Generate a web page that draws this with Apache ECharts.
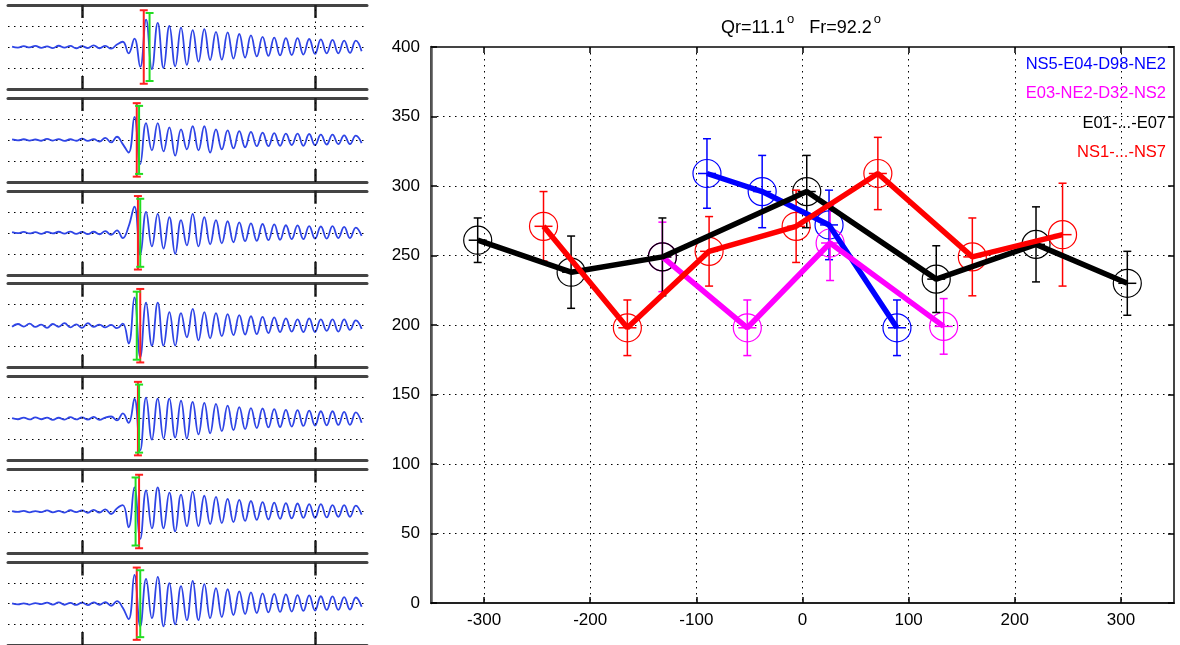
<!DOCTYPE html>
<html><head><meta charset="utf-8">
<script src="https://cdn.jsdelivr.net/npm/echarts@6/dist/echarts.min.js"></script>
<style>html,body{margin:0;padding:0;background:#fff}#c{width:1180px;height:645px}</style>
</head><body><div id="c"></div>
<script>
// ---------- left: seismogram traces (amplitude, sampled every traceDt s) ----------
const traceDt = 0.05;
const traceTicks = [0.6, 2.6];
const trace1 = [0.02,-0.03,0.04,-0.02,0.05,-0.04,0.03,-0.05,0.06,-0.03,0.05,-0.06,0.04,-0.05,0.08,-0.06,0.05,-0.08,0.12,0.25,-0.3,0.4,-0.95,1.3,-1.05,1.15,-1.0,1.0,-0.92,0.92,-0.85,0.8,-0.7,0.85,-0.62,0.72,-0.6,0.7,-0.55,0.62,-0.5,0.55,-0.45,0.48,-0.42,0.45,-0.4,0.42,-0.38,0.42,-0.36,0.38,-0.33,0.36,-0.3,0.34,-0.3,0.3,-0.28,0.3,-0.2];
const trace2 = [0.02,-0.02,0.03,-0.03,0.02,-0.04,0.05,-0.03,0.04,-0.05,0.03,-0.04,0.06,-0.05,0.04,-0.08,0.1,-0.12,0.15,-0.2,-0.6,1.1,-1.15,0.8,-0.5,0.8,-0.55,0.6,-0.75,0.5,-0.45,0.65,-0.5,0.65,-0.6,0.5,-0.45,0.45,-0.4,0.42,-0.35,0.38,-0.3,0.35,-0.3,0.32,-0.28,0.3,-0.25,0.3,-0.28,0.28,-0.25,0.25,-0.22,0.25,-0.2,0.22,-0.2,0.2,-0.15];
const trace3 = [0.03,-0.02,0.04,-0.03,0.03,-0.05,0.04,-0.03,0.05,-0.04,0.06,-0.05,0.04,-0.06,0.05,-0.07,0.08,-0.1,0.12,-0.25,0.3,1.25,-1.05,1.0,-0.65,0.9,-0.75,0.75,-1.0,0.6,-0.6,0.9,-0.65,0.75,-0.55,0.6,-0.5,0.55,-0.45,0.5,-0.4,0.45,-0.38,0.42,-0.35,0.4,-0.33,0.36,-0.3,0.35,-0.3,0.32,-0.28,0.3,-0.28,0.32,-0.25,0.28,-0.25,0.25,-0.15];
const trace4 = [-0.05,0.08,-0.04,0.1,-0.06,0.05,-0.1,0.08,-0.05,0.12,-0.08,0.06,-0.1,0.12,-0.06,0.05,-0.08,0.04,-0.12,0.1,-0.85,1.35,-1.5,1.1,-0.95,1.1,-0.95,0.65,-0.95,0.6,-0.55,0.8,-0.7,0.65,-0.6,0.6,-0.5,0.55,-0.45,0.5,-0.42,0.45,-0.4,0.42,-0.35,0.4,-0.3,0.35,-0.28,0.3,-0.3,0.35,-0.3,0.3,-0.25,0.3,-0.28,0.3,-0.2,0.25,-0.15];
const trace5 = [0.02,-0.03,0.05,-0.04,0.06,-0.03,0.05,-0.06,0.04,-0.05,0.07,-0.04,0.06,-0.05,0.08,-0.06,0.05,0.1,-0.08,0.25,-0.2,0.95,-1.5,1.0,-1.0,0.95,-0.95,0.95,-0.9,0.85,-0.95,0.8,-0.75,0.75,-0.7,0.7,-0.6,0.62,-0.55,0.55,-0.5,0.5,-0.45,0.48,-0.42,0.45,-0.4,0.42,-0.38,0.4,-0.35,0.38,-0.33,0.35,-0.32,0.35,-0.3,0.32,-0.3,0.3,-0.2];
const trace6 = [0.02,-0.02,0.03,-0.04,0.02,-0.03,0.05,-0.04,0.03,-0.05,0.06,-0.03,0.05,-0.06,0.08,-0.05,0.1,-0.12,0.15,0.3,-0.75,1.15,-1.3,1.0,-0.8,1.15,-0.8,0.9,-0.95,0.8,-0.7,0.95,-0.7,0.75,-0.6,0.7,-0.55,0.6,-0.5,0.55,-0.45,0.5,-0.4,0.45,-0.38,0.42,-0.35,0.4,-0.33,0.38,-0.3,0.35,-0.3,0.35,-0.28,0.3,-0.25,0.3,-0.25,0.28,-0.15];
const trace7 = [0.02,-0.03,0.02,-0.04,0.03,-0.02,0.05,-0.04,0.06,-0.05,0.04,-0.06,0.05,-0.07,0.06,-0.05,0.08,-0.1,0.12,-0.2,-0.75,1.4,-1.1,1.2,-0.7,1.3,-1.1,1.0,-1.0,0.85,-0.8,1.1,-0.8,0.95,-0.7,0.75,-0.65,0.7,-0.55,0.6,-0.5,0.55,-0.45,0.5,-0.42,0.48,-0.4,0.45,-0.38,0.42,-0.35,0.4,-0.33,0.36,-0.3,0.35,-0.3,0.32,-0.28,0.3,-0.15];
const traces = [trace1, trace2, trace3, trace4, trace5, trace6, trace7];
// pick markers (time) and half-heights (amplitude units)
const pickRed   = [1.13, 1.07, 1.08, 1.10, 1.08, 1.09, 1.07];
const pickGreen = [1.18, 1.09, 1.10, 1.07, 1.09, 1.06, 1.10];
const pickRedHalf = 1.75;
const pickGreenHalf = 1.62;

// ---------- right: measurements ----------
const xTicks = [-300, -200, -100, 0, 100, 200, 300];
const blueX = [-90, -38, 25, 89];
const blueY = [309, 296, 272, 198];
const blueErr = [25, 26, 25, 20];
const magentaX = [-132, -52, 26, 133];
const magentaY = [249, 198, 259, 199];
const magentaErr = [25, 20, 27, 20];
const blackX = [-306, -218, -132, 4, 126, 220, 306];
const blackY = [261, 238, 249, 296, 233, 258, 230];
const blackErr = [16, 26, 28, 26, 24, 27, 23];
const redX = [-244, -165, -88, -6, 71, 160, 245];
const redY = [271, 198, 253, 271, 309, 249, 265];
const redErr = [25, 20, 25, 26, 26, 28, 37];
const seriesNames = ['NS5-E04-D98-NE2', 'E03-NE2-D32-NS2', 'E01-...-E07', 'NS1-...-NS7'];
const seriesColors = ['#0000ff', '#ff00ff', '#000000', '#ff0000'];
const titleParts = ['Qr=11.1', 'Fr=92.2'];

const FONT = "'Liberation Sans',sans-serif";
const chart = echarts.init(document.getElementById('c'), null, {renderer: 'canvas'});

const grids = [], xAxes = [], yAxes = [], series = [];
const dotted = [1.5, 4.5];

// left panels
traces.forEach((tr, i) => {
  grids.push({left: 8, width: 359, top: 5 + i * 92.9, height: 84});
  const common = {
    type: 'value', gridIndex: i, min: -0.035, max: 3.046,
    axisLabel: {show: false}, splitLine: {show: false},
    axisLine: {show: true, onZero: false, lineStyle: {color: '#444', width: 3}},
    axisTick: {show: true, inside: true, length: 13, customValues: traceTicks, lineStyle: {color: '#222', width: 2.5}}
  };
  xAxes.push(Object.assign({position: 'bottom'}, common));
  xAxes.push(Object.assign({position: 'top'}, common));
  yAxes.push({
    type: 'value', gridIndex: i, min: -2, max: 2, interval: 1,
    axisLine: {show: false, onZero: false}, axisTick: {show: false}, axisLabel: {show: false},
    splitLine: {show: true, lineStyle: {color: '#000', width: 1, type: dotted}}
  });
  series.push({
    type: 'line', xAxisIndex: 2 * i, yAxisIndex: i, symbol: 'none', smooth: 0.45,
    lineStyle: {color: '#2f45e6', width: 1.8}, z: 3,
    data: tr.map((v, k) => [k * traceDt, v]),
    markLine: {silent: true, symbol: 'none', label: {show: false},
      lineStyle: {color: '#000', width: 1, type: dotted},
      data: traceTicks.map(t => ({xAxis: t}))}
  });
  const pickSeries = (t, half, color, z) => ({
    type: 'custom', xAxisIndex: 2 * i, yAxisIndex: i, z: z, clip: false,
    data: [[t, half]],
    renderItem: (params, api) => {
      const x = api.value(0), h = api.value(1);
      const a = api.coord([x, h]), b = api.coord([x, -h]);
      const st = {stroke: color, lineWidth: 2};
      return {type: 'group', children: [
        {type: 'line', shape: {x1: a[0], y1: a[1], x2: b[0], y2: b[1]}, style: st},
        {type: 'line', shape: {x1: a[0] - 4, y1: a[1], x2: a[0] + 4, y2: a[1]}, style: st},
        {type: 'line', shape: {x1: b[0] - 4, y1: b[1], x2: b[0] + 4, y2: b[1]}, style: st}
      ]};
    }
  });
  series.push(pickSeries(pickRed[i], pickRedHalf, '#ff2020', 4));
  series.push(pickSeries(pickGreen[i], pickGreenHalf, '#22dd22', 5));
});

// right chart
const G = 7;
grids.push({left: 431, right: 6, top: 47, bottom: 42, show: true, borderColor: '#333', borderWidth: 2});
const tickStyle = {show: true, inside: true, length: 6, lineStyle: {color: '#000', width: 1.5}};
xAxes.push({type: 'value', gridIndex: G, position: 'bottom', min: -350, max: 350,
  axisLine: {show: true, onZero: false, lineStyle: {color: '#222', width: 2}},
  axisTick: Object.assign({customValues: xTicks}, tickStyle),
  axisLabel: {customValues: xTicks, color: '#000', fontFamily: FONT, fontSize: 17, margin: 9},
  splitLine: {show: true, lineStyle: {color: '#000', width: 1, type: dotted}}});
xAxes.push({type: 'value', gridIndex: G, position: 'top', min: -350, max: 350,
  axisLine: {show: true, onZero: false, lineStyle: {color: '#444', width: 2}},
  axisTick: Object.assign({customValues: xTicks}, tickStyle),
  axisLabel: {show: false}, splitLine: {show: false}});
yAxes.push({type: 'value', gridIndex: G, position: 'left', min: 0, max: 400, interval: 50,
  axisLine: {show: true, onZero: false, lineStyle: {color: '#555', width: 2.5}},
  axisTick: tickStyle,
  axisLabel: {color: '#000', fontFamily: FONT, fontSize: 17, margin: 11},
  splitLine: {show: true, lineStyle: {color: '#000', width: 1, type: dotted}}});
yAxes.push({type: 'value', gridIndex: G, position: 'right', min: 0, max: 400, interval: 50,
  axisLine: {show: true, onZero: false, lineStyle: {color: '#444', width: 2}},
  axisTick: tickStyle, axisLabel: {show: false}, splitLine: {show: false}});

const groups = [
  [blueX, blueY, blueErr], [magentaX, magentaY, magentaErr],
  [blackX, blackY, blackErr], [redX, redY, redErr]
];
groups.forEach((g, si) => {
  const color = seriesColors[si];
  const data = g[0].map((x, k) => [x, g[1][k], g[2][k]]);
  series.push({
    name: seriesNames[si] + ' err', type: 'custom', xAxisIndex: 14, yAxisIndex: 7, z: 5 + si,
    data: data,
    renderItem: (params, api) => {
      const x = api.value(0), y = api.value(1), e = api.value(2);
      const c = api.coord([x, y]), a = api.coord([x, y + e]), b = api.coord([x, y - e]);
      const st = {stroke: color, lineWidth: 1.5, fill: null};
      return {type: 'group', children: [
        {type: 'circle', shape: {cx: c[0], cy: c[1], r: 14}, style: {stroke: color, lineWidth: 1.2, fill: null}},
        {type: 'line', shape: {x1: a[0], y1: a[1], x2: b[0], y2: b[1]}, style: st},
        {type: 'line', shape: {x1: a[0] - 4, y1: a[1], x2: a[0] + 4, y2: a[1]}, style: st},
        {type: 'line', shape: {x1: b[0] - 4, y1: b[1], x2: b[0] + 4, y2: b[1]}, style: st},
        {type: 'line', shape: {x1: c[0] - 9, y1: c[1], x2: c[0] + 9, y2: c[1]}, style: st}
      ]};
    }
  });
  series.push({
    name: seriesNames[si], type: 'line', xAxisIndex: 14, yAxisIndex: 7, z: 10 + si,
    symbol: 'none', lineStyle: {color: color, width: 5.5}, data: data.map(d => [d[0], d[1]])
  });
});

const option = {
  animation: false,
  backgroundColor: '#fff',
  title: {
    text: '{m|' + titleParts[0] + '}{s|o}{m|   ' + titleParts[1] + '}{s|o}',
    left: 796, top: 8, textAlign: 'center',
    textStyle: {fontWeight: 'normal', rich: {
      m: {fontFamily: FONT, fontSize: 18, fontWeight: 'normal', color: '#000', verticalAlign: 'bottom', lineHeight: 24},
      s: {fontFamily: FONT, fontSize: 13, fontWeight: 'normal', color: '#000', verticalAlign: 'top', lineHeight: 24, padding: [0, 0, 11, 2]}
    }}
  },
  graphic: seriesNames.map((n, k) => ({
    type: 'text', right: 14, top: 56 + k * 29.3, z: 50,
    style: {text: n, fill: seriesColors[k], font: '16.5px ' + FONT, textAlign: 'right'}
  })),
  grid: grids, xAxis: xAxes, yAxis: yAxes, series: series
};
chart.setOption(option);
</script></body></html>
